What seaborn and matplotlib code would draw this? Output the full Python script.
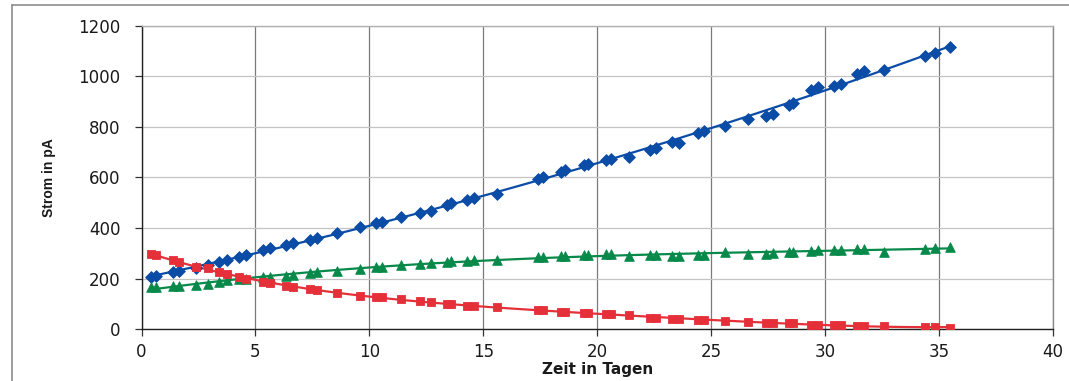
import matplotlib
matplotlib.use("Agg")
import matplotlib.pyplot as plt
from matplotlib.lines import Line2D
import numpy as np
import pandas as pd
import seaborn as sns

# Messzeitpunkte (Tage) und gemessene Ströme (pA) der drei Reihen
tage = [0.4, 0.65, 1.4, 1.65, 2.4, 2.9, 3.4, 3.75, 4.3, 4.6, 5.35, 5.65, 6.35, 6.65,
        7.4, 7.7, 8.6, 9.6, 10.3, 10.55, 11.4, 12.2, 12.7, 13.4, 13.6, 14.3, 14.6,
        15.6, 17.4, 17.6, 18.4, 18.6, 19.4, 19.6, 20.4, 20.6, 21.4, 22.3, 22.6,
        23.3, 23.6, 24.4, 24.7, 25.6, 26.6, 27.4, 27.7, 28.4, 28.6, 29.4, 29.7,
        30.4, 30.7, 31.4, 31.7, 32.6, 34.4, 34.8, 35.5]

strom_blau = [205, 210, 225, 228, 243, 253, 266, 272, 285, 293, 312, 320, 333, 341,
              352, 360, 381, 404, 418, 423, 443, 458, 468, 493, 498, 512, 518,
              533, 596, 603, 623, 630, 648, 655, 668, 675, 683, 710, 716,
              741, 737, 775, 785, 803, 833, 845, 852, 888, 895, 948, 958,
              963, 970, 1010, 1020, 1025, 1080, 1095, 1115]

strom_gruen = [166, 168, 170, 171, 174, 178, 186, 193, 198, 199, 207, 205, 211, 214,
               221, 224, 231, 238, 244, 247, 253, 257, 262, 266, 268, 270, 272,
               273, 285, 287, 290, 291, 292, 294, 297, 298, 289, 293, 293,
               289, 290, 293, 293, 305, 297, 298, 302, 306, 305, 309, 311,
               313, 313, 316, 315, 306, 317, 322, 324]

strom_rot = [296, 295, 273, 265, 246, 240, 224, 217, 206, 200, 186, 181, 170, 165,
             158, 156, 144, 131, 127, 126, 119, 112, 107, 99, 98, 91, 90,
             87, 76, 74, 69, 68, 63, 62, 60, 59, 56, 44, 43,
             41, 40, 37, 36, 32, 29, 25, 23, 25, 24, 17, 16,
             15, 14, 13, 12, 12, 8, 7, 4]

x_ticks = [0, 5, 10, 15, 20, 25, 30, 35, 40]
y_ticks = [0, 200, 400, 600, 800, 1000, 1200]

df = pd.DataFrame({"Tage": tage, "blau": strom_blau,
                   "gruen": strom_gruen, "rot": strom_rot})

sns.set_style("white")
plt.rcParams["font.family"] = ["DejaVu Sans"]

fig = plt.figure(figsize=(10.69, 3.81), dpi=100)
ax = fig.add_axes([141.5 / 1069, 1 - 329 / 381, (1053 - 141.5) / 1069, (329 - 26) / 381])

# Messpunkte mit polynomialer Trendlinie je Reihe
reihen = [
    ("blau", "#0a4ca6", "D", 36, 2),
    ("gruen", "#07894a", "^", 48, 3),
    ("rot", "#e5303a", "s", 32, 4),
]
for spalte, farbe, marker, groesse, ordnung in reihen:
    sns.regplot(data=df, x="Tage", y=spalte, order=ordnung, ci=None, ax=ax,
                marker=marker, color=farbe,
                scatter_kws={"s": groesse, "edgecolor": farbe, "linewidths": 0.6,
                             "alpha": 1, "zorder": 3},
                line_kws={"lw": 1.6, "zorder": 2})

ax.set_xlim(0, 40)
ax.set_ylim(0, 1200)
ax.set_xticks(x_ticks)
ax.set_yticks(y_ticks)
ax.set_xticklabels([str(v) for v in x_ticks])
ax.set_yticklabels([str(v) for v in y_ticks])

ax.xaxis.grid(True, color="#7a7a7a", lw=0.9)
ax.yaxis.grid(True, color="#c4c4c4", lw=0.9)
ax.set_axisbelow(True)

ax.spines["left"].set_color("#222222")
ax.spines["bottom"].set_color("#222222")
ax.spines["right"].set_color("#8a8a8a")
ax.spines["top"].set_color("#b0b0b0")
for s in ax.spines.values():
    s.set_linewidth(1.0)
    s.set_visible(True)

ax.tick_params(axis="both", which="major", length=5, width=0.9, color="#333333",
               labelsize=12, labelcolor="#1a1a1a", direction="out",
               bottom=True, left=True)
ax.tick_params(axis="x", pad=5)
ax.tick_params(axis="y", pad=10)

ax.set_xlabel("Zeit in Tagen", fontsize=11, fontweight="bold", color="#1a1a1a",
              labelpad=1)
ax.set_ylabel("Strom in pA", fontsize=10, fontweight="bold", color="#1a1a1a",
              family=["Liberation Sans", "DejaVu Sans"], labelpad=16)

# Rahmen um die Abbildung (oben und links)
W, H = 1069, 381
fig.add_artist(Line2D([12 / W, 1.0], [1 - 5 / H, 1 - 5 / H],
                      transform=fig.transFigure, color="#8c8c8c", lw=1.2))
fig.add_artist(Line2D([12 / W, 12 / W], [0.0, 1 - 5 / H],
                      transform=fig.transFigure, color="#8c8c8c", lw=1.2))

fig.savefig("out.png", dpi=100)
